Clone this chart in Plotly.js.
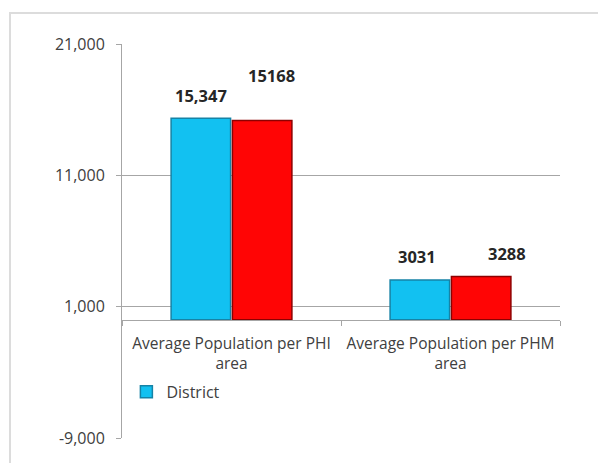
<!DOCTYPE html>
<html>
<head>
<meta charset="utf-8">
<script src="https://cdn.plot.ly/plotly-3.0.1.min.js"></script>
<style>html,body{margin:0;padding:0;background:#fff;}#chart{width:598px;height:463px;}</style>
</head>
<body>
<div id="chart"></div>
<script>
var categories = ["Average Population per PHI<br>area", "Average Population per PHM<br>area"];
var districtValues = [15347, 3031];
var otherValues = [15168, 3288];
var districtLabels = ["15,347", "3031"];
var otherLabels = ["15168", "3288"];
var yTickVals = [-9000, 1000, 11000, 21000];
var yTickText = ["-9,000", "1,000", "11,000", "21,000"];

var FONT = "'Open Sans', Lato, sans-serif";

var traces = [
  {
    type: "bar", name: "District", x: categories, y: districtValues,
    marker: {color: "#12C1F1", line: {color: "#1683A6", width: 1.5}},
    hoverinfo: "none"
  },
  {
    type: "bar", name: "Series 2", x: categories, y: otherValues, showlegend: false,
    marker: {color: "#FF0505", line: {color: "#8E0000", width: 1.5}},
    hoverinfo: "none"
  }
];

// label placement tweaks (style only)
var dShift = [[-31, 9], [-34, 10]];
var oShift = [[40, 32], [56, 10]];
var annotations = [];
for (var i = 0; i < categories.length; i++) {
  annotations.push({x: categories[i], y: districtValues[i], text: districtLabels[i], showarrow: false,
    xshift: dShift[i][0], yshift: dShift[i][1], yanchor: "bottom",
    font: {family: FONT, size: 16.5, color: "#262626", weight: "bold"}});
  annotations.push({x: categories[i], y: otherValues[i], text: otherLabels[i], showarrow: false,
    xshift: oShift[i][0], yshift: oShift[i][1], yanchor: "bottom",
    font: {family: FONT, size: 16.5, color: "#262626", weight: "bold"}});
}

var layout = {
  width: 598, height: 463,
  margin: {l: 122, r: 38, t: 44, b: 25, pad: 0},
  paper_bgcolor: "#fff", plot_bgcolor: "#fff",
  font: {family: FONT, size: 16, color: "#404040"},
  barmode: "group", bargap: 0.44, bargroupgap: 0.03,
  showlegend: true,
  legend: {x: 0.01, y: 0.117, xanchor: "left", yanchor: "middle", bgcolor: "rgba(0,0,0,0)",
    font: {family: FONT, size: 16, color: "#404040"}, itemwidth: 30, tracegroupgap: 0},
  xaxis: {
    type: "category", range: [-0.5, 1.5], anchor: "free", position: 0.2995,
    showline: true, linecolor: "#a6a6a6", linewidth: 1,
    ticks: "outside", tickson: "boundaries", ticklen: 5, tickcolor: "#a6a6a6",
    showgrid: false, tickfont: {family: FONT, size: 15.5, color: "#404040"},
    tickangle: 0, ticklabelstandoff: 9, fixedrange: true
  },
  yaxis: {
    range: [-9000, 21000], tickvals: yTickVals, ticktext: yTickText,
    showgrid: true, gridcolor: "#a6a6a6", gridwidth: 1,
    zeroline: false,
    showline: true, linecolor: "#a6a6a6", linewidth: 1,
    ticks: "outside", ticklen: 5, tickcolor: "#a6a6a6",
    tickfont: {family: FONT, size: 16, color: "#404040"}, ticklabelstandoff: 8,
    fixedrange: true
  },
  shapes: [
    {type: "rect", xref: "paper", yref: "paper", x0: -0.2557, x1: 1.2, y0: -0.2, y1: 1.0787,
      line: {color: "#dcdcdc", width: 2}, fillcolor: "rgba(0,0,0,0)", layer: "below"}
  ],
  annotations: annotations
};

Plotly.newPlot("chart", traces, layout, {displayModeBar: false, staticPlot: true});
</script>
</body>
</html>
